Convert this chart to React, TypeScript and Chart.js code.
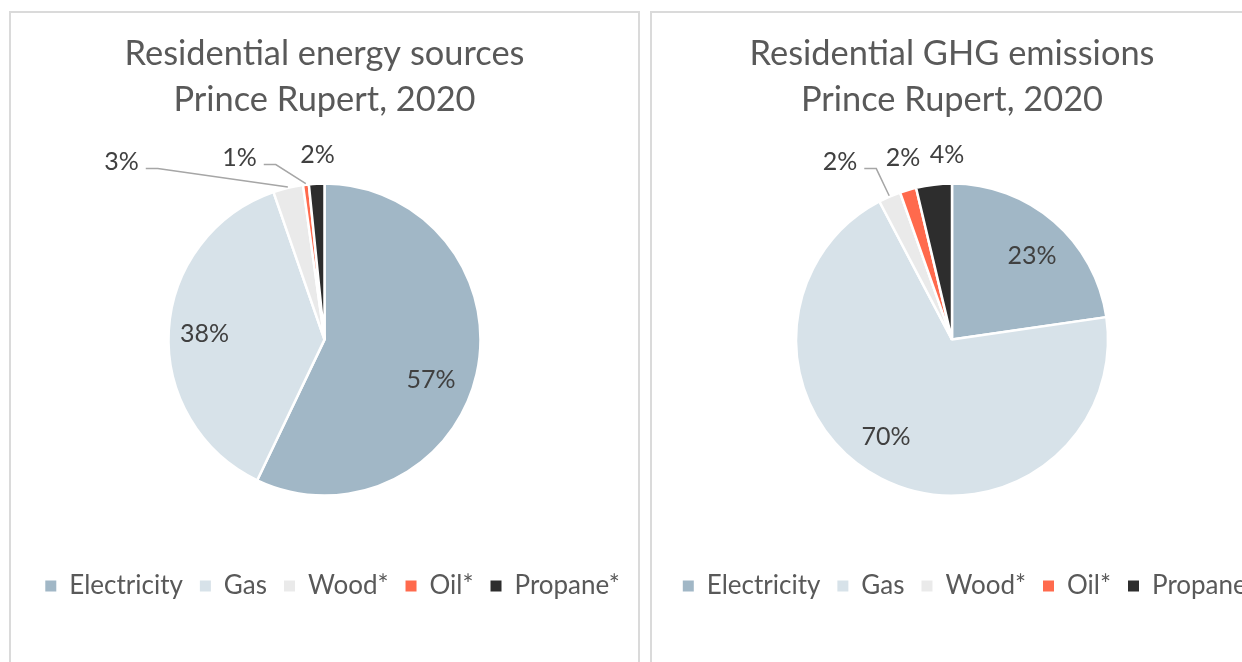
import React, { useEffect, useRef } from "react";
import { Chart, registerables } from "chart.js";

Chart.register(...registerables);

// ---- data ----
const categories = ["Electricity", "Gas", "Wood*", "Oil*", "Propane*"];
const energyShares = [57.1, 37.6, 3.1, 0.6, 1.6];
const emissionShares = [22.7, 69.6, 2.3, 1.7, 3.7];
const energyTitle = ["Residential energy sources", "Prince Rupert, 2020"];
const emissionTitle = ["Residential GHG emissions", "Prince Rupert, 2020"];

// ---- styles ----
const sliceColors = ["#A1B7C6", "#D7E2E9", "#EAEAEA", "#FF6A4D", "#2D2D2D"];
const FONT = "Lato, 'Open Sans', sans-serif";

type LabelSpec =
  | { inside: true; rf: number; da: number }
  | { inside: false; dx: number; dy: number; leader: boolean };

const energyLabelLayout: LabelSpec[] = [
  { inside: true, rf: 0.73, da: 8 },
  { inside: true, rf: 0.77, da: -0.5 },
  { inside: false, dx: -203, dy: -178, leader: true },
  { inside: false, dx: -85, dy: -182, leader: true },
  { inside: false, dx: -7, dy: -185, leader: false },
];
const emissionLabelLayout: LabelSpec[] = [
  { inside: true, rf: 0.74, da: 3 },
  { inside: true, rf: 0.755, da: 7 },
  { inside: false, dx: -112, dy: -178, leader: true },
  { inside: false, dx: -49, dy: -182, leader: false },
  { inside: false, dx: -5, dy: -185, leader: false },
];

const pieLabels = {
  id: "pieLabels",
  afterDatasetsDraw(chart: any, _args: any, opts: any) {
    const meta = chart.getDatasetMeta(0);
    const data = chart.data.datasets[0].data as number[];
    const total = data.reduce((a, b) => a + b, 0);
    const ctx = chart.ctx as CanvasRenderingContext2D;
    ctx.save();
    ctx.font = `${opts.fontSize}px ${FONT}`;
    ctx.textAlign = "center";
    ctx.textBaseline = "middle";
    meta.data.forEach((arc: any, i: number) => {
      const { x, y, startAngle, endAngle, outerRadius } = arc.getProps(
        ["x", "y", "startAngle", "endAngle", "outerRadius"],
        true
      );
      const mid = (startAngle + endAngle) / 2;
      const spec: LabelSpec = opts.layout[i];
      const text = Math.round((data[i] / total) * 100) + "%";
      let lx: number, ly: number;
      if (spec.inside) {
        const a = mid + (spec.da * Math.PI) / 180;
        lx = x + Math.cos(a) * outerRadius * spec.rf;
        ly = y + Math.sin(a) * outerRadius * spec.rf;
      } else {
        lx = x + spec.dx;
        ly = y + spec.dy;
        if (spec.leader) {
          const w = ctx.measureText(text).width;
          const sx = lx + w / 2 + 7;
          const sy = ly + 7;
          const ex = x + Math.cos(mid) * (outerRadius + 1);
          const ey = y + Math.sin(mid) * (outerRadius + 1);
          ctx.strokeStyle = "#A6A6A6";
          ctx.lineWidth = 1.5;
          ctx.beginPath();
          ctx.moveTo(sx, sy);
          ctx.lineTo(sx + 12, sy);
          ctx.lineTo(ex, ey);
          ctx.stroke();
        }
      }
      ctx.fillStyle = "#404040";
      ctx.fillText(text, lx, ly);
    });
    ctx.restore();
  },
};

const legendShift = {
  id: "legendShift",
  afterLayout(chart: any, _args: any, opts: any) {
    const lg = chart.legend;
    if (lg && opts && opts.dx) {
      lg.left += opts.dx;
      lg.right += opts.dx;
    }
  },
};

function PiePanel(props: {
  title: string[];
  values: number[];
  layout: LabelSpec[];
  panelLeft: number;
  panelWidth: number;
  canvasLeft: number;
  canvasWidth: number;
  legendDx: number;
}) {
  const ref = useRef<HTMLCanvasElement>(null);
  const H = 649;
  useEffect(() => {
    const baseGen = (Chart as any).overrides.doughnut.plugins.legend.labels.generateLabels;
    const chart = new Chart(ref.current!, {
      type: "pie",
      data: {
        labels: categories,
        datasets: [
          {
            data: props.values,
            backgroundColor: sliceColors,
            borderColor: "#ffffff",
            borderWidth: 2.5,
          },
        ],
      },
      options: {
        responsive: false,
        animation: false,
        radius: 156,
        layout: { padding: { top: 0, left: 0, right: 0, bottom: 53 } },
        plugins: {
          title: {
            display: true,
            text: props.title,
            color: "#595959",
            font: { family: FONT, size: 34.4, weight: "normal", lineHeight: 1.34 },
            padding: { top: 18, bottom: 0 },
          },
          legend: {
            position: "bottom",
            labels: {
              color: "#595959",
              font: { family: FONT, size: 26 },
              boxWidth: 11,
              boxHeight: 11,
              padding: 17,
              generateLabels: (c: any) =>
                baseGen(c).map((it: any) => ({ ...it, lineWidth: 0, strokeStyle: it.fillStyle })),
            },
          },
          tooltip: { enabled: false },
          pieLabels: { fontSize: 25, layout: props.layout },
          legendShift: { dx: props.legendDx },
        } as any,
      },
      plugins: [pieLabels, legendShift],
    });
    return () => chart.destroy();
  }, []);
  return (
    <>
      <div
        style={{
          position: "absolute",
          left: props.panelLeft,
          top: 11,
          border: "2px solid #DADADA",
          background: "#ffffff",
          width: props.panelWidth,
          height: H,
        }}
      />
      <canvas
        ref={ref}
        width={props.canvasWidth}
        height={H}
        style={{
          position: "absolute",
          left: props.canvasLeft,
          top: 13,
          display: "block",
          width: props.canvasWidth,
          height: H,
        }}
      />
    </>
  );
}

export default function App() {
  return (
    <div
      style={{
        position: "fixed",
        left: 0,
        top: 0,
        width: 1242,
        height: 662,
        overflow: "hidden",
        background: "#ffffff",
      }}
    >
      <PiePanel
        title={energyTitle}
        values={energyShares}
        layout={energyLabelLayout}
        panelLeft={9}
        panelWidth={627}
        canvasLeft={11}
        canvasWidth={627}
        legendDx={8}
      />
      <PiePanel
        title={emissionTitle}
        values={emissionShares}
        layout={emissionLabelLayout}
        panelLeft={650}
        panelWidth={600}
        canvasLeft={632}
        canvasWidth={640}
        legendDx={18}
      />
    </div>
  );
}
